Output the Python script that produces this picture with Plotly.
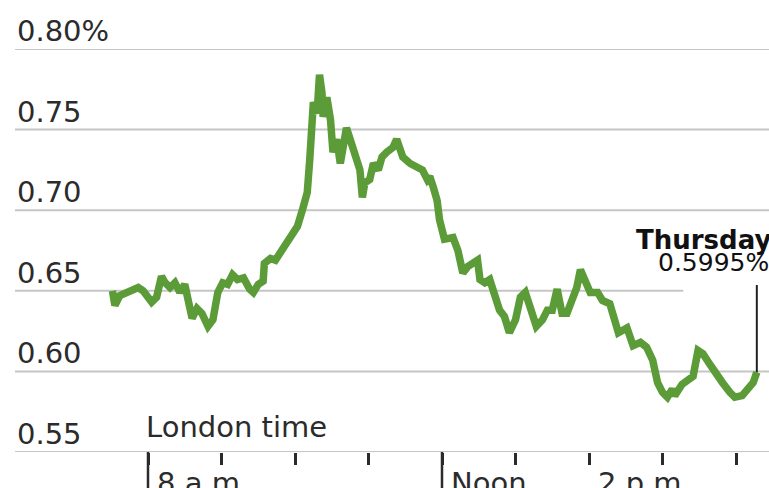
import plotly.graph_objects as go

# ---- data (London time, yield in %) ----
times = ["07:31","07:33","07:37","07:43","07:52","07:56","08:03","08:07","08:11","08:14",
         "08:18","08:22","08:26","08:30","08:33","08:36","08:40","08:44","08:49","08:53",
         "08:57","09:01","09:05","09:09","09:13","09:18","09:23","09:26","09:30","09:34",
         "09:35","09:40","09:44","09:48","09:53","09:58","10:02","10:06","10:10","10:12",
         "10:14","10:15","10:18","10:20","10:22","10:23","10:26","10:29","10:31","10:34",
         "10:37","10:39","10:42","10:45","10:49","10:53","10:55","10:57","11:01","11:04",
         "11:08","11:11","11:15","11:20","11:23","11:26","11:28","11:34","11:40","11:44",
         "11:48","11:50","11:53","11:56","11:58","12:01","12:02","12:09","12:13","12:17",
         "12:21","12:25","12:29","12:31","12:35","12:39","12:43","12:47","12:51","12:55",
         "13:00","13:04","13:08","13:12","13:17","13:22","13:26","13:30","13:34","13:38",
         "13:42","13:46","13:50","13:53","13:57","14:01","14:07","14:11","14:17","14:21",
         "14:24","14:31","14:36","14:42","14:47","14:52","14:56","15:00","15:04","15:08",
         "15:10","15:16","15:21","15:25","15:29","15:33","15:39","15:44","15:49","15:55",
         "15:59","16:05","16:10","16:14","16:17"]
yields = [0.650,0.641,0.647,0.649,0.652,0.650,0.643,0.646,0.659,0.655,
          0.652,0.655,0.649,0.654,0.644,0.633,0.639,0.636,0.628,0.632,
          0.649,0.655,0.654,0.660,0.657,0.658,0.651,0.649,0.654,0.656,
          0.667,0.670,0.669,0.674,0.680,0.686,0.690,0.700,0.711,0.731,
          0.752,0.767,0.760,0.784,0.773,0.758,0.770,0.756,0.736,0.744,
          0.729,0.739,0.751,0.744,0.736,0.725,0.708,0.717,0.719,0.729,
          0.725,0.733,0.736,0.739,0.744,0.739,0.733,0.729,0.727,0.725,
          0.719,0.721,0.714,0.706,0.694,0.683,0.682,0.683,0.675,0.661,
          0.665,0.667,0.669,0.657,0.655,0.657,0.646,0.638,0.634,0.624,
          0.632,0.646,0.649,0.638,0.628,0.632,0.638,0.638,0.651,0.636,
          0.636,0.644,0.652,0.663,0.655,0.649,0.649,0.644,0.642,0.630,
          0.624,0.627,0.616,0.618,0.615,0.607,0.593,0.587,0.584,0.589,
          0.585,0.592,0.595,0.597,0.613,0.611,0.604,0.598,0.593,0.587,
          0.584,0.585,0.589,0.593,0.5995]

y_ticks = [0.55, 0.60, 0.65, 0.70, 0.75, 0.80]
y_tick_labels = ["0.55", "0.60", "0.65", "0.70", "0.75", "0.80%"]
hour_ticks = [8, 9, 10, 11, 12, 13, 14, 15, 16]
long_ticks = [8, 12]
time_labels = {8: "8 a.m.", 12: "Noon", 14: "2 p.m."}
last_label_day = "Thursday"
last_label_value = "0.5995%"


def to_hours(s):
    h, m = s.split(":")
    return int(h) + int(m) / 60.0


x = [to_hours(t) for t in times]

GREEN = "#5b9b38"
GRID = "#c6c6c6"
TEXT = "#2b2b2b"
FONT = "DejaVu Sans"
FS = 29

fig = go.Figure()
fig.add_trace(go.Scatter(x=x, y=yields, mode="lines",
                         line=dict(color=GREEN, width=7.5),
                         hoverinfo="skip", showlegend=False))

shapes = []
annotations = []
grid_cut = to_hours("15:17")
leader_top = 0.6536
for v, lab in zip(y_ticks, y_tick_labels):
    if abs(v - 0.65) < 1e-9:
        shapes.append(dict(type="line", xref="x", yref="y", x0=6.19, x1=grid_cut,
                           y0=v, y1=v, line=dict(color=GRID, width=2), layer="below"))
    else:
        shapes.append(dict(type="line", xref="paper", yref="y", x0=0, x1=1, y0=v, y1=v,
                           line=dict(color=GRID, width=2), layer="below"))
    annotations.append(dict(xref="paper", yref="y", x=0, y=v, text=lab,
                            xanchor="left", yanchor="bottom", xshift=0, yshift=-1,
                            showarrow=False, font=dict(family=FONT, size=FS, color=TEXT)))

for h in long_ticks:
    shapes.append(dict(type="line", xref="x", yref="paper", x0=h, x1=h, y0=0, y1=-0.12,
                       line=dict(color=TEXT, width=2.5)))

for h, lab in time_labels.items():
    annotations.append(dict(xref="x", yref="paper", x=h, y=0, text=lab,
                            xanchor="left", yanchor="top", xshift=7, yshift=-12,
                            showarrow=False, font=dict(family=FONT, size=FS, color=TEXT)))

annotations.append(dict(xref="x", yref="y", x=8, y=0.55, text="London time",
                        xanchor="left", yanchor="bottom", xshift=-4, yshift=6,
                        showarrow=False, font=dict(family=FONT, size=FS, color=TEXT)))

annotations.append(dict(xref="paper", yref="y", x=1, y=leader_top,
                        text=last_label_value, xanchor="right", yanchor="bottom",
                        align="right", yshift=6, xshift=2,
                        showarrow=False, font=dict(family=FONT, size=25, color="#111111")))
annotations.append(dict(xref="paper", yref="y", x=1, y=leader_top,
                        text="<b>" + last_label_day + "</b>", xanchor="right", yanchor="bottom",
                        align="right", yshift=28, xshift=4,
                        showarrow=False, font=dict(family=FONT, size=26, color="#111111")))

shapes.append(dict(type="line", xref="x", yref="y", x0=x[-1], x1=x[-1],
                   y0=yields[-1], y1=leader_top, line=dict(color="#222222", width=2)))

fig.update_layout(
    width=769, height=488,
    margin=dict(l=15, r=0, t=49, b=36),
    paper_bgcolor="white", plot_bgcolor="white",
    xaxis=dict(range=[6.1905, 16.449], showgrid=False, zeroline=False,
               tickvals=hour_ticks, ticks="outside", ticklen=12, tickwidth=2.5,
               tickcolor=TEXT, showticklabels=False, showline=False, fixedrange=True),
    yaxis=dict(range=[0.55, 0.80], showgrid=False, zeroline=False,
               showticklabels=False, fixedrange=True),
    shapes=shapes, annotations=annotations,
)

# remove the default page margin so the 769x488 figure fills the window exactly
fig.write_html("out.html", config={"displayModeBar": False},
               post_script="document.body.style.margin='0';document.body.style.overflow='hidden';")
